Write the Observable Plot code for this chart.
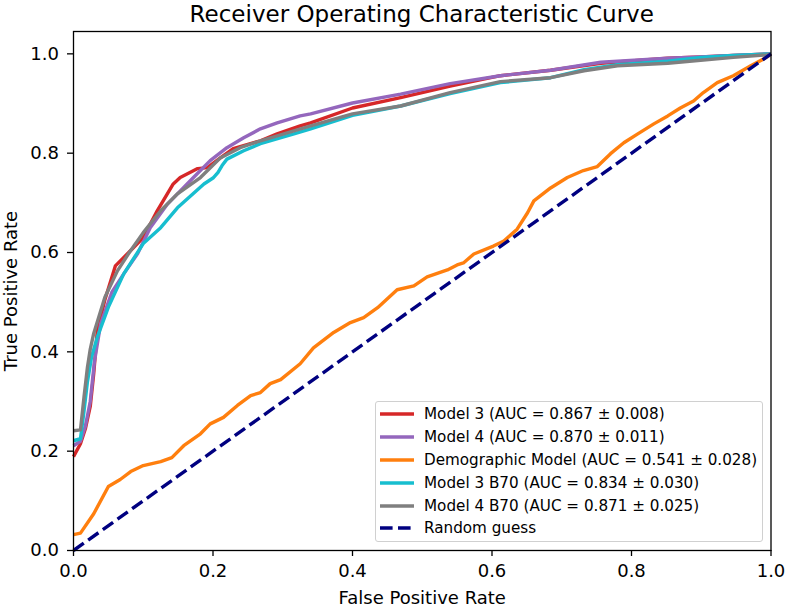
<!DOCTYPE html>
<html>
<head>
<meta charset="utf-8">
<script src="https://cdn.jsdelivr.net/npm/d3@7"></script>
<script src="https://cdn.jsdelivr.net/npm/@observablehq/plot@0.6"></script>
<style>
  html, body { margin: 0; padding: 0; background: #fff; }
  #wrap { position: relative; width: 786px; height: 608px; font-family: "DejaVu Sans", sans-serif; color: #000; overflow: hidden; }
  #title { height: 28px; line-height: 28px; font-size: 23px; text-align: center; padding-left: 73px; padding-right: 15.5px; white-space: nowrap; }
  #legend { position: absolute; left: 375px; top: 401px; width: 388px; height: 141px; box-sizing: border-box;
            border: 1px solid #d0d0d0; border-radius: 3px; background: rgba(255,255,255,0.85); padding-top: 1px; }
  .row { height: 22.8px; display: flex; align-items: center; font-size: 15.2px; white-space: nowrap; }
  .row svg { margin-left: 3px; margin-right: 9px; flex: none; }
</style>
</head>
<body>
<div id="wrap">
  <div id="title">Receiver Operating Characteristic Curve</div>
  <div id="chart"></div>
  <div id="legend"></div>
</div>
<script>
// ---- data ----
const seriesNames = [
  "Model 3 (AUC = 0.867 \u00b1 0.008)",
  "Model 4 (AUC = 0.870 \u00b1 0.011)",
  "Demographic Model (AUC = 0.541 \u00b1 0.028)",
  "Model 3 B70 (AUC = 0.834 \u00b1 0.030)",
  "Model 4 B70 (AUC = 0.871 \u00b1 0.025)",
  "Random guess"
];
const seriesColors = ["#d62728", "#9467bd", "#ff7f0e", "#17becf", "#7f7f7f", "#000080"];

const model3Fpr = [0, 0.01, 0.017, 0.024, 0.029, 0.034, 0.045, 0.06, 0.082, 0.1, 0.12, 0.143, 0.153, 0.178, 0.192, 0.211, 0.229, 0.268, 0.292, 0.325, 0.34, 0.4, 0.469, 0.54, 0.612, 0.684, 0.756, 0.852, 0.899, 0.946, 1];
const model3Tpr = [0.189, 0.215, 0.245, 0.29, 0.356, 0.44, 0.505, 0.573, 0.604, 0.63, 0.684, 0.738, 0.751, 0.769, 0.771, 0.791, 0.809, 0.825, 0.839, 0.855, 0.861, 0.891, 0.912, 0.935, 0.956, 0.967, 0.981, 0.991, 0.994, 0.997, 1];

const model4Fpr = [0, 0.01, 0.017, 0.024, 0.03, 0.039, 0.055, 0.072, 0.092, 0.11, 0.135, 0.172, 0.196, 0.22, 0.244, 0.268, 0.292, 0.325, 0.34, 0.4, 0.469, 0.54, 0.612, 0.684, 0.756, 0.852, 0.899, 0.946, 1];
const model4Tpr = [0.211, 0.22, 0.25, 0.3, 0.38, 0.457, 0.52, 0.557, 0.598, 0.65, 0.698, 0.751, 0.785, 0.811, 0.831, 0.849, 0.861, 0.875, 0.879, 0.901, 0.919, 0.94, 0.956, 0.967, 0.983, 0.991, 0.994, 0.997, 1];

const demoFpr = [0, 0.01, 0.029, 0.05, 0.067, 0.082, 0.1, 0.125, 0.141, 0.158, 0.182, 0.196, 0.215, 0.235, 0.254, 0.268, 0.282, 0.297, 0.325, 0.344, 0.373, 0.397, 0.416, 0.436, 0.464, 0.488, 0.507, 0.536, 0.55, 0.559, 0.574, 0.602, 0.617, 0.636, 0.651, 0.66, 0.684, 0.708, 0.731, 0.751, 0.77, 0.789, 0.809, 0.832, 0.852, 0.87, 0.889, 0.903, 0.923, 0.946, 0.971, 0.995, 1];
const demoTpr = [0.032, 0.035, 0.074, 0.129, 0.143, 0.159, 0.171, 0.179, 0.187, 0.211, 0.235, 0.255, 0.268, 0.292, 0.312, 0.318, 0.336, 0.344, 0.376, 0.408, 0.439, 0.459, 0.469, 0.489, 0.525, 0.533, 0.551, 0.565, 0.575, 0.579, 0.597, 0.613, 0.623, 0.647, 0.68, 0.704, 0.73, 0.751, 0.765, 0.773, 0.799, 0.821, 0.839, 0.859, 0.875, 0.891, 0.905, 0.922, 0.942, 0.956, 0.976, 0.994, 1];

const model3B70Fpr = [0, 0.01, 0.015, 0.02, 0.026, 0.034, 0.05, 0.072, 0.1, 0.125, 0.149, 0.187, 0.2, 0.207, 0.213, 0.22, 0.244, 0.268, 0.316, 0.34, 0.4, 0.469, 0.54, 0.612, 0.684, 0.732, 0.78, 0.852, 0.899, 0.946, 1];
const model3B70Tpr = [0.221, 0.225, 0.28, 0.34, 0.39, 0.429, 0.49, 0.557, 0.618, 0.65, 0.69, 0.738, 0.75, 0.761, 0.775, 0.788, 0.805, 0.819, 0.839, 0.849, 0.876, 0.895, 0.92, 0.942, 0.952, 0.968, 0.978, 0.985, 0.993, 0.997, 1];

const model4B70Fpr = [0, 0.01, 0.015, 0.02, 0.024, 0.029, 0.045, 0.063, 0.08, 0.1, 0.125, 0.149, 0.182, 0.211, 0.239, 0.268, 0.316, 0.34, 0.4, 0.469, 0.54, 0.612, 0.684, 0.732, 0.78, 0.852, 0.899, 0.946, 0.994, 1];
const model4B70Tpr = [0.241, 0.243, 0.308, 0.369, 0.405, 0.437, 0.51, 0.563, 0.6, 0.64, 0.684, 0.718, 0.751, 0.791, 0.811, 0.825, 0.845, 0.855, 0.879, 0.895, 0.922, 0.944, 0.952, 0.966, 0.976, 0.981, 0.987, 0.993, 0.998, 1];

const randomFpr = [0, 1];
const randomTpr = [0, 1];

const xTicks = [0, 0.2, 0.4, 0.6, 0.8, 1.0];
const yTicks = [0, 0.2, 0.4, 0.6, 0.8, 1.0];

// ---- build table ----
const fprs = [model3Fpr, model4Fpr, demoFpr, model3B70Fpr, model4B70Fpr];
const tprs = [model3Tpr, model4Tpr, demoTpr, model3B70Tpr, model4B70Tpr];
const curves = [];
fprs.forEach((f, s) => f.forEach((v, i) => curves.push({series: seriesNames[s], fpr: v, tpr: tprs[s][i]})));
const diag = randomFpr.map((v, i) => ({series: seriesNames[5], fpr: v, tpr: randomTpr[i]}));

const LW = 3.4;
const chart = Plot.plot({
  width: 786,
  height: 580,
  marginLeft: 73,
  marginRight: 15.5,
  marginTop: 3,
  marginBottom: 58,
  style: {fontFamily: "DejaVu Sans, sans-serif", fontSize: "18px", color: "#000", background: "#fff", overflow: "visible"},
  x: {domain: [0, 1]},
  y: {domain: [0, 1.045]},
  color: {domain: seriesNames, range: seriesColors},
  marks: [
    Plot.line(curves, {x: "fpr", y: "tpr", z: "series", stroke: "series", strokeWidth: LW, strokeLinejoin: "round", strokeLinecap: "butt"}),
    Plot.line(diag, {x: "fpr", y: "tpr", stroke: "series", strokeWidth: LW, strokeDasharray: "12.6,5.4", strokeLinecap: "butt"}),
    Plot.frame({stroke: "#000", strokeWidth: 1.3}),
    Plot.axisX({ticks: xTicks, tickFormat: d3.format(".1f"), tickSize: 6, tickPadding: 8, strokeWidth: 1.3,
      label: "False Positive Rate", labelAnchor: "center", labelOffset: 53.5, labelArrow: false}),
    Plot.axisY({ticks: yTicks, tickFormat: d3.format(".1f"), tickSize: 6, tickPadding: 8.5, strokeWidth: 1.3,
      label: "True Positive Rate", labelAnchor: "center", labelOffset: 69, labelArrow: false})
  ]
});
document.getElementById("chart").appendChild(chart);

// ---- legend ----
const legend = document.getElementById("legend");
seriesNames.forEach((name, i) => {
  const row = document.createElement("div");
  row.className = "row";
  const dash = i === 5 ? ' stroke-dasharray="12.6,5.4"' : '';
  row.innerHTML = `<svg width="36" height="8"><line x1="1" x2="35" y1="4" y2="4" stroke="${seriesColors[i]}" stroke-width="${LW}"${dash}/></svg><span>${name}</span>`;
  legend.appendChild(row);
});
</script>
</body>
</html>
